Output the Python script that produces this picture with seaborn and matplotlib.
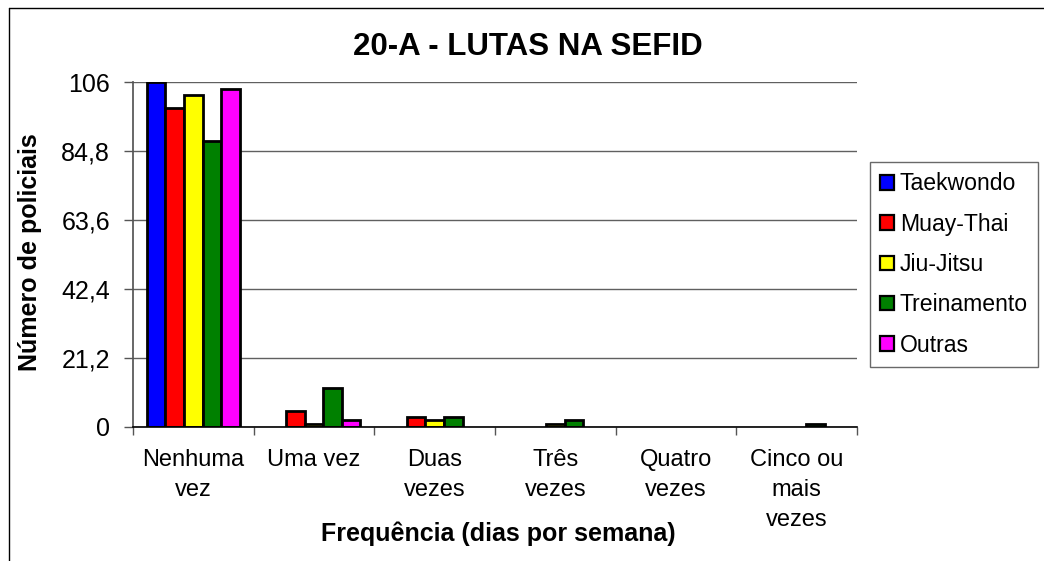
import matplotlib
matplotlib.use("Agg")
import matplotlib.pyplot as plt
import numpy as np
import pandas as pd
import seaborn as sb
from matplotlib.lines import Line2D

CATEGORIES = ["Nenhuma\nvez", "Uma vez", "Duas\nvezes", "Três\nvezes", "Quatro\nvezes", "Cinco ou\nmais\nvezes"]
SERIES = ["Taekwondo", "Muay-Thai", "Jiu-Jitsu", "Treinamento", "Outras"]
TAEKWONDO = [106, 0, 0, 0, 0, 0]
MUAY_THAI = [98, 5, 3, 0, 0, 0]
JIU_JITSU = [102, 1, 2, 1, 0, 0]
TREINAMENTO = [88, 12, 3, 2, 0, 1]
OUTRAS = [104, 2, 0, 0, 0, 0]
COLORS = ["#0000ff", "#ff0000", "#ffff00", "#008000", "#ff00ff"]
Y_TICKS = [0, 21.2, 42.4, 63.6, 84.8, 106]
Y_TICK_LABELS = ["0", "21,2", "42,4", "63,6", "84,8", "106"]

rows = []
for name, values in zip(SERIES, [TAEKWONDO, MUAY_THAI, JIU_JITSU, TREINAMENTO, OUTRAS]):
    for cat, v in zip(CATEGORIES, values):
        rows.append({"freq": cat, "luta": name, "n": v})
df = pd.DataFrame(rows)

sb.set_theme(style="white")
plt.rcParams["font.family"] = ["Liberation Sans", "DejaVu Sans"]
plt.rcParams["text.color"] = "black"
plt.rcParams["axes.labelcolor"] = "black"
plt.rcParams["xtick.color"] = "black"
plt.rcParams["ytick.color"] = "black"

W, H = 1044, 561
fig = plt.figure(figsize=(W / 100, H / 100), dpi=100)
ax = fig.add_axes([133 / W, 1 - 427 / H, (857 - 133) / W, (427 - 82) / H])

g = sb.barplot(df, x="freq", y="n", hue="luta", palette=COLORS, order=CATEGORIES,
               hue_order=SERIES, width=0.77, edgecolor="black", linewidth=2.0,
               saturation=1, ax=ax, legend=True)

ax.set_ylim(0, 106)
ax.set_xlim(-0.5, 5.5)
ax.set_yticks(Y_TICKS)
ax.set_yticklabels(Y_TICK_LABELS, fontsize=18)
ax.yaxis.grid(True, color="#606060", linewidth=1)
ax.set_axisbelow(True)
ax.tick_params(axis="y", length=6.5, width=1, color="#555555", left=True, pad=10)

ax.set_xticks(range(len(CATEGORIES)))
ax.set_xticklabels(CATEGORIES, fontsize=17, linespacing=1.45, va="top")
ax.set_xticks(np.arange(-0.5, 6, 1), minor=True)
ax.tick_params(axis="x", which="major", length=0, pad=16)
ax.tick_params(axis="x", which="minor", length=6, width=1, color="#555555", bottom=True)

for side in ["top", "right"]:
    ax.spines[side].set_visible(False)
ax.spines["left"].set_color("#555555")
ax.spines["bottom"].set_color("black")
ax.spines["bottom"].set_linewidth(1.2)

ax.set_xlabel("")
ax.set_ylabel("")
fig.text(498 / W, 1 - 534 / H, "Frequência (dias por semana)", fontsize=18, fontweight="bold",
         ha="center", va="center")
fig.text(30 / W, 1 - 252 / H, "Número de policiais", fontsize=18, fontweight="bold",
         ha="center", va="center", rotation=90)
fig.text(528 / W, 1 - 47 / H, "20-A - LUTAS NA SEFID", fontsize=22.5, fontweight="bold",
         ha="center", va="center")

leg = ax.legend(loc="upper left", bbox_to_anchor=(870 / W, 1 - 162 / H),
                bbox_transform=fig.transFigure, fontsize=16.6,
                frameon=True, fancybox=False, edgecolor="#444444",
                handlelength=0.6, handleheight=0.6, handletextpad=0.25,
                labelspacing=0.75, borderpad=0.45, borderaxespad=0)
leg.get_frame().set_linewidth(1)
for h in leg.legend_handles:
    h.set_linewidth(1.6)

# zero-height bars are not drawn in the original
for bar in ax.patches:
    if bar.get_height() == 0:
        bar.set_visible(False)

fig.add_artist(Line2D([9 / W, 9 / W], [0, 1 - 8 / H], transform=fig.transFigure, color="black", linewidth=1))
fig.add_artist(Line2D([9 / W, 1], [1 - 8 / H, 1 - 8 / H], transform=fig.transFigure, color="black", linewidth=1))

fig.savefig("out.png", dpi=100)
